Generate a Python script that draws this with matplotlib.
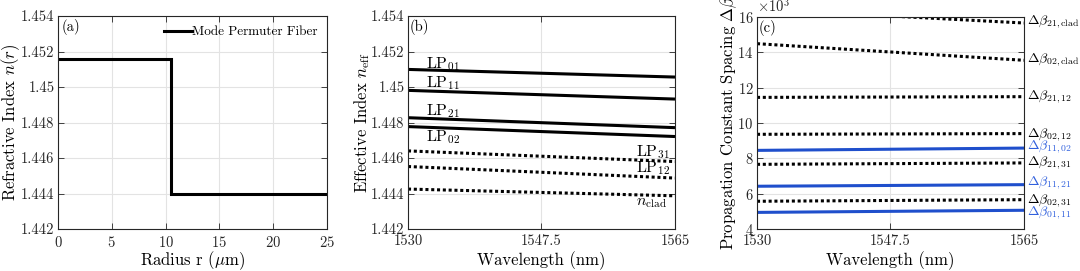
import numpy as np
import matplotlib
matplotlib.use("Agg")
import matplotlib.pyplot as plt
from matplotlib.ticker import ScalarFormatter

plt.rcParams['font.family'] = ['cmr10', 'DejaVu Serif']
plt.rcParams['mathtext.fontset'] = 'cm'
plt.rcParams['axes.formatter.use_mathtext'] = True
plt.rcParams['axes.unicode_minus'] = False

# ---------------- data ----------------
# (a) refractive index profile
radius = [0.0, 10.5, 10.5, 25.0]
n_profile = [1.4516, 1.4516, 1.4440, 1.4440]

# (b) effective indices vs wavelength (start, end)
wavelength = [1530.0, 1565.0]
neff_names = ['LP01', 'LP11', 'LP21', 'LP02', 'LP31', 'LP12', 'nclad']
neff_start = [1.45099, 1.44981, 1.44827, 1.44777, 1.44640, 1.44552, 1.44425]
neff_end = [1.45056, 1.44932, 1.44771, 1.44721, 1.44580, 1.44487, 1.44387]
neff_dotted = [False, False, False, False, True, True, True]

# (c) propagation-constant spacing (rad/m)
db_names = ['21,clad', '02,clad', '21,12', '02,12', '11,02', '21,31', '11,21', '02,31', '01,11']
db_start = [16450, 14490, 11450, 9360, 8450, 7660, 6420, 5570, 4940]
db_end = [15660, 13550, 11490, 9400, 8580, 7740, 6510, 5660, 5060]
db_blue = [False, False, False, False, True, False, True, False, True]
db_label_y = [15750, 13580, 11510, 9340, 8680, 7740, 6600, 5600, 4910]

BLUE = '#1f4fcc'
BLUE_TXT = '#3060dd'
SPINE = '#262626'
GRID = '#e3e3e3'

fig = plt.figure(figsize=(10.8, 2.71), dpi=100)
W, H = 1080, 271

def add_ax(l, r, t, b):
    return fig.add_axes([l / W, 1 - b / H, (r - l) / W, (b - t) / H])

axa = add_ax(58, 327, 16, 229)
axb = add_ax(408, 675, 16, 229)
axc = add_ax(757, 1024, 17, 229)

TICK_FS = 10.5
LAB_FS = 12
YPAD = -1
XLAB_BASE = 265  # pixel row of x-label baseline

def style(ax):
    for s in ax.spines.values():
        s.set_color(SPINE)
        s.set_linewidth(0.8)
    ax.tick_params(direction='in', top=True, right=True, length=4, width=0.6,
                   labelsize=TICK_FS, colors=SPINE, pad=2.5)
    ax.tick_params(axis='x', pad=4.0)
    ax.grid(True, color=GRID, linewidth=0.8)
    ax.set_axisbelow(True)

def set_xlab(ax, text):
    ax.set_xlabel(text, fontsize=LAB_FS, va='baseline')
    bb = ax.get_position()
    bottom_px = (1 - bb.y0) * H
    ax.xaxis.set_label_coords(0.5, -(XLAB_BASE - bottom_px) / (bb.height * H))

LW = 2.2
DOT = (0, (1.0, 0.9))

# ---- (a)
style(axa)
axa.plot(radius, n_profile, color='black', lw=LW, label='Mode Permuter Fiber',
         solid_joinstyle='miter')
axa.set_xlim(0, 25)
axa.set_ylim(1.442, 1.454)
axa.set_xticks([0, 5, 10, 15, 20, 25])
axa.set_yticks([1.442, 1.444, 1.446, 1.448, 1.45, 1.452, 1.454])
axa.set_yticklabels(['1.442', '1.444', '1.446', '1.448', '1.45', '1.452', '1.454'])
set_xlab(axa, r'Radius r ($\mu$m)')
axa.set_ylabel(r'Refractive Index $n(r)$', fontsize=LAB_FS, labelpad=YPAD)
axa.text(0.012, 0.985, '(a)', transform=axa.transAxes, ha='left', va='top', fontsize=TICK_FS)
leg = axa.legend(loc='upper right', frameon=False, fontsize=9.5, handlelength=2.1,
                 handletextpad=0.0, borderaxespad=0.35)

# ---- (b)
style(axb)
for nm, s, e, d in zip(neff_names, neff_start, neff_end, neff_dotted):
    axb.plot(wavelength, [s, e], color='black', lw=LW,
             linestyle=DOT if d else '-', solid_capstyle='butt', dash_capstyle='butt')
axb.set_xlim(1530, 1565)
axb.set_ylim(1.442, 1.454)
axb.set_xticks([1530, 1547.5, 1565])
axb.set_xticklabels(['1530', '1547.5', '1565'])
axb.set_yticks([1.442, 1.444, 1.446, 1.448, 1.45, 1.452, 1.454])
axb.set_yticklabels(['1.442', '1.444', '1.446', '1.448', '1.45', '1.452', '1.454'])
set_xlab(axb, 'Wavelength (nm)')
axb.set_ylabel(r'Effective Index $n_{\mathrm{eff}}$', fontsize=LAB_FS, labelpad=YPAD)
axb.text(0.005, 0.985, '(b)', transform=axb.transAxes, ha='left', va='top', fontsize=TICK_FS)
lab_b = {
    'LP01': (1532.4, 1.45129, r'LP$_{01}$'),
    'LP11': (1532.4, 1.45022, r'LP$_{11}$'),
    'LP21': (1532.4, 1.44865, r'LP$_{21}$'),
    'LP02': (1532.4, 1.44719, r'LP$_{02}$'),
    'LP31': (1559.9, 1.44631, r'LP$_{31}$'),
    'LP12': (1559.9, 1.44544, r'LP$_{12}$'),
    'nclad': (1559.9, 1.44348, r'$n_{\mathrm{clad}}$'),
}
for nm in neff_names:
    x, y, t = lab_b[nm]
    axb.text(x, y, t, fontsize=11.5, ha='left', va='center')

# ---- (c)
style(axc)
for nm, s, e, b in zip(db_names, db_start, db_end, db_blue):
    axc.plot(wavelength, [s, e], color=BLUE if b else 'black', lw=LW,
             linestyle='-' if b else DOT, solid_capstyle='butt', dash_capstyle='butt')
axc.set_xlim(1530, 1565)
axc.set_ylim(4000, 16000)
axc.set_xticks([1530, 1547.5, 1565])
axc.set_xticklabels(['1530', '1547.5', '1565'])
axc.set_yticks([4000, 6000, 8000, 10000, 12000, 14000, 16000])
fmt = ScalarFormatter(useMathText=True)
fmt.set_powerlimits((3, 3))
axc.yaxis.set_major_formatter(fmt)
axc.yaxis.get_offset_text().set_fontsize(TICK_FS)
set_xlab(axc, 'Wavelength (nm)')
axc.set_ylabel(r'Propagation Constant Spacing $\Delta\beta$', fontsize=LAB_FS, labelpad=YPAD)
axc.text(0.005, 0.985, '(c)', transform=axc.transAxes, ha='left', va='top', fontsize=TICK_FS)
for nm, yl, b in zip(db_names, db_label_y, db_blue):
    sub = nm.replace('clad', r'\mathrm{clad}')
    axc.text(1565.4, yl, r'$\Delta\beta_{' + sub + '}$', fontsize=10,
             color=BLUE_TXT if b else 'black', ha='left', va='center', clip_on=False)

fig.savefig('out.png', dpi=100)
